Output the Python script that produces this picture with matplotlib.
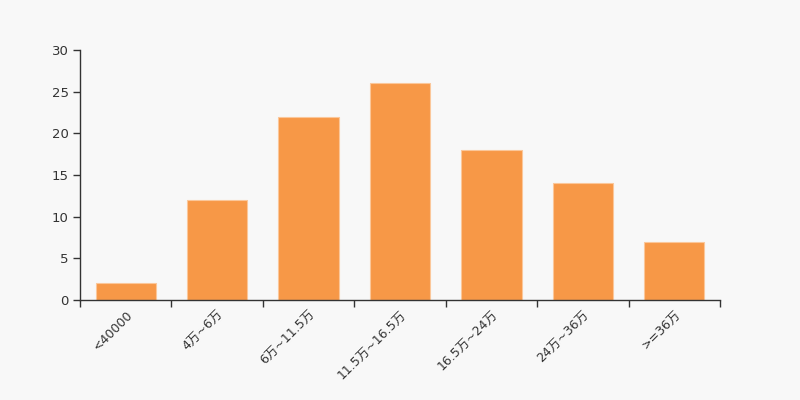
import numpy as np
import matplotlib
matplotlib.use('Agg')
import matplotlib.pyplot as plt

plt.rcParams['font.family'] = ['DejaVu Sans', 'Noto Sans CJK SC']

# 数据
categories = ['<40000', '4万~6万', '6万~11.5万', '11.5万~16.5万', '16.5万~24万', '24万~36万', '>=36万']
values = [2, 12, 22, 26, 18, 14, 7]
yticks = [0, 5, 10, 15, 20, 25, 30]

bg = '#f8f8f8'
txt = '#333333'

fig = plt.figure(figsize=(8, 4), dpi=100, facecolor=bg)
ax = fig.add_axes([0.1, 0.25, 0.8, 0.625], facecolor=bg)

x = np.arange(len(categories))
ax.bar(x, values, width=0.66, color='#f79847', edgecolor='#fbc79a', linewidth=0.8)

ax.set_xlim(-0.5, len(categories) - 0.5)
ax.set_ylim(0, 30)
ax.set_yticks(yticks)

# 类目标签居中，刻度线在分界处
ax.set_xticks(x)
ax.set_xticklabels(categories, rotation=45, ha='right', rotation_mode='anchor', fontsize=9, color=txt)
ax.set_xticks(np.arange(len(categories) + 1) - 0.5, minor=True)
ax.tick_params(axis='x', which='major', length=0, pad=6)
ax.tick_params(axis='x', which='minor', length=5, color=txt, width=1)
ax.tick_params(axis='y', length=5, color=txt, width=1, labelsize=9.5, labelcolor=txt, pad=3)

for s in ['top', 'right']:
    ax.spines[s].set_visible(False)
for s in ['left', 'bottom']:
    ax.spines[s].set_color(txt)
    ax.spines[s].set_linewidth(1)

plt.savefig('out.png', dpi=100, facecolor=bg)
